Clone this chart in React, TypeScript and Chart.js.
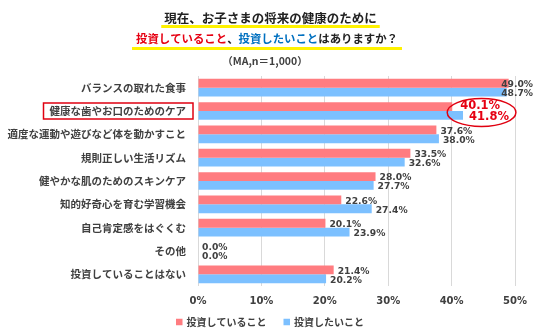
import React, { useEffect, useRef } from "react";
import { Chart, registerables } from "chart.js";

Chart.register(...registerables);

const categories = [
  "バランスの取れた食事",
  "健康な歯やお口のためのケア",
  "適度な運動や遊びなど体を動かすこと",
  "規則正しい生活リズム",
  "健やかな肌のためのスキンケア",
  "知的好奇心を育む学習機会",
  "自己肯定感をはぐくむ",
  "その他",
  "投資していることはない",
];
const investing = [49.0, 40.1, 37.6, 33.5, 28.0, 22.6, 20.1, 0.0, 21.4];
const wanting = [48.7, 41.8, 38.0, 32.6, 27.7, 27.4, 23.9, 0.0, 20.2];
const seriesNames = ["投資していること", "投資したいこと"];
const xTickValues = [0, 10, 20, 30, 40, 50];
const highlightIndex = 1;

const RED = "#FF7C80";
const BLUE = "#7CC0FF";
const CJK = "'Noto Sans CJK JP', 'Noto Sans', sans-serif";
const NUM = "'DejaVu Sans', sans-serif";
const TEXT = "#404040";

const titlePlugin = {
  id: "customTitle",
  afterDraw(chart: any) {
    const ctx = chart.ctx as CanvasRenderingContext2D;
    ctx.save();
    ctx.textBaseline = "middle";
    // line 1
    ctx.font = `bold 12.5px ${CJK}`;
    const l1 = "現在、お子さまの将来の健康のために";
    const w1 = ctx.measureText(l1).width;
    const c1 = 270.5;
    ctx.fillStyle = "#FFF200";
    ctx.fillRect(c1 - w1 / 2 - 3, 25, w1 + 6, 3);
    ctx.fillStyle = "#222";
    ctx.textAlign = "left";
    ctx.fillText(l1, c1 - w1 / 2, 18);
    // line 2
    ctx.font = `bold 11.4px ${CJK}`;
    const segs = [
      { t: "投資していること", c: "#E60012" },
      { t: "、", c: "#222" },
      { t: "投資したいこと", c: "#0070C0" },
      { t: "はありますか？", c: "#222" },
    ];
    const total = segs.reduce((s, g) => s + ctx.measureText(g.t).width, 0);
    const c2 = 267;
    ctx.fillStyle = "#FFF200";
    ctx.fillRect(c2 - total / 2 - 4, 47, total + 8, 3);
    let x = c2 - total / 2;
    for (const g of segs) {
      ctx.fillStyle = g.c;
      ctx.fillText(g.t, x, 39);
      x += ctx.measureText(g.t).width;
    }
    // line 3
    ctx.font = `bold 10.5px ${CJK}`;
    ctx.fillStyle = TEXT;
    ctx.textAlign = "center";
    ctx.fillText("（MA,n＝1,000）", 265, 61);

    // legend (custom, from dataset labels & colours)
    ctx.font = `bold 10px ${CJK}`;
    ctx.textAlign = "left";
    const items = chart.data.datasets.map((ds: any) => ({
      text: ds.label as string,
      color: ds.backgroundColor as string,
      w: ctx.measureText(ds.label).width,
    }));
    const box = 6.5;
    const gapBT = 4;
    const gapItems = 17;
    const rowW =
      items.reduce((s: number, it: any) => s + box + gapBT + it.w, 0) + gapItems * (items.length - 1);
    let lx = 270 - rowW / 2;
    const ly = 322;
    for (const it of items) {
      ctx.fillStyle = it.color;
      ctx.fillRect(lx, ly - box / 2, box, box);
      ctx.fillStyle = TEXT;
      ctx.fillText(it.text, lx + box + gapBT, ly);
      lx += box + gapBT + it.w + gapItems;
    }
    ctx.restore();
  },
};

const labelPlugin = {
  id: "valueLabels",
  afterDatasetsDraw(chart: any) {
    const ctx = chart.ctx as CanvasRenderingContext2D;
    const yScale = chart.scales.y;
    const xScale = chart.scales.x;
    ctx.save();
    ctx.textBaseline = "middle";
    ctx.textAlign = "left";
    let minX = Infinity;
    let maxX = -Infinity;
    chart.data.datasets.forEach((ds: any, di: number) => {
      const meta = chart.getDatasetMeta(di);
      meta.data.forEach((el: any, i: number) => {
        const v = ds.data[i] as number;
        const txt = v.toFixed(1) + "%";
        if (i === highlightIndex) {
          ctx.font = `bold 11.5px ${NUM}`;
          ctx.fillStyle = "#E60012";
          const w = ctx.measureText(txt).width;
          const x = el.x + (di === 0 ? 8 : 6);
          ctx.fillText(txt, x, el.y + (di === 0 ? -1 : 2));
          minX = Math.min(minX, x);
          maxX = Math.max(maxX, x + w);
        } else {
          ctx.font = `bold 9.2px ${NUM}`;
          ctx.fillStyle = TEXT;
          const w = ctx.measureText(txt).width;
          const x = Math.min(el.x + 4, chart.width - 3 - w);
          ctx.fillText(txt, x, el.y + 1.5);
        }
      });
    });
    // ellipse around highlighted labels
    const cy = yScale.getPixelForValue(highlightIndex) + 1.5;
    const cx = (minX + maxX) / 2 - 3;
    ctx.strokeStyle = "#E00010";
    ctx.lineWidth = 1.5;
    ctx.beginPath();
    ctx.ellipse(cx, cy, (maxX - minX) / 2 + 10, 14, 0, 0, Math.PI * 2);
    ctx.stroke();
    // box around highlighted category label
    ctx.font = `bold 10.5px ${CJK}`;
    const lw = ctx.measureText(categories[highlightIndex]).width;
    const right = xScale.left - 12;
    ctx.lineWidth = 1.5;
    ctx.strokeStyle = "#E00010";
    ctx.strokeRect(right - lw - 6, cy - 9.5, lw + 13, 16);
    ctx.restore();
  },
};

export default function App() {
  const ref = useRef<HTMLCanvasElement | null>(null);
  useEffect(() => {
    if (!ref.current) return;
    const chart = new Chart(ref.current, {
      type: "bar",
      data: {
        labels: categories,
        datasets: [
          { label: seriesNames[0], data: investing, backgroundColor: RED, borderWidth: 0 },
          { label: seriesNames[1], data: wanting, backgroundColor: BLUE, borderWidth: 0 },
        ],
      },
      options: {
        indexAxis: "y",
        responsive: false,
        animation: false,
        maintainAspectRatio: false,
        layout: { padding: { top: 76, right: 21, left: 0, bottom: 20 } },
        datasets: { bar: { categoryPercentage: 0.76, barPercentage: 1 } },
        scales: {
          x: {
            min: 0,
            max: 50,
            afterBuildTicks(scale: any) {
              scale.ticks = xTickValues.map((v) => ({ value: v }));
            },
            ticks: {
              callback: (v: any) => `${v}%`,
              font: { family: NUM, size: 10, weight: "bold" },
              color: TEXT,
              padding: 9,
            },
            grid: { color: "#D9D9D9", drawTicks: false, lineWidth: 1 },
            border: { display: false },
          },
          y: {
            afterFit(scale: any) {
              scale.width = 198;
            },
            ticks: {
              font: { family: CJK, size: 10.5, weight: "bold" },
              color: TEXT,
              padding: 12,
            },
            grid: { display: false, drawTicks: false },
            border: { display: false },
          },
        },
        plugins: {
          legend: { display: false },
          tooltip: { enabled: false },
          title: { display: false },
        },
      },
      plugins: [titlePlugin, labelPlugin],
    } as any);
    return () => chart.destroy();
  }, []);
  return (
    <div style={{ position: "absolute", left: 0, top: 0, width: 536, height: 336, background: "#fff" }}>
      <canvas ref={ref} width={536} height={336} />
    </div>
  );
}
